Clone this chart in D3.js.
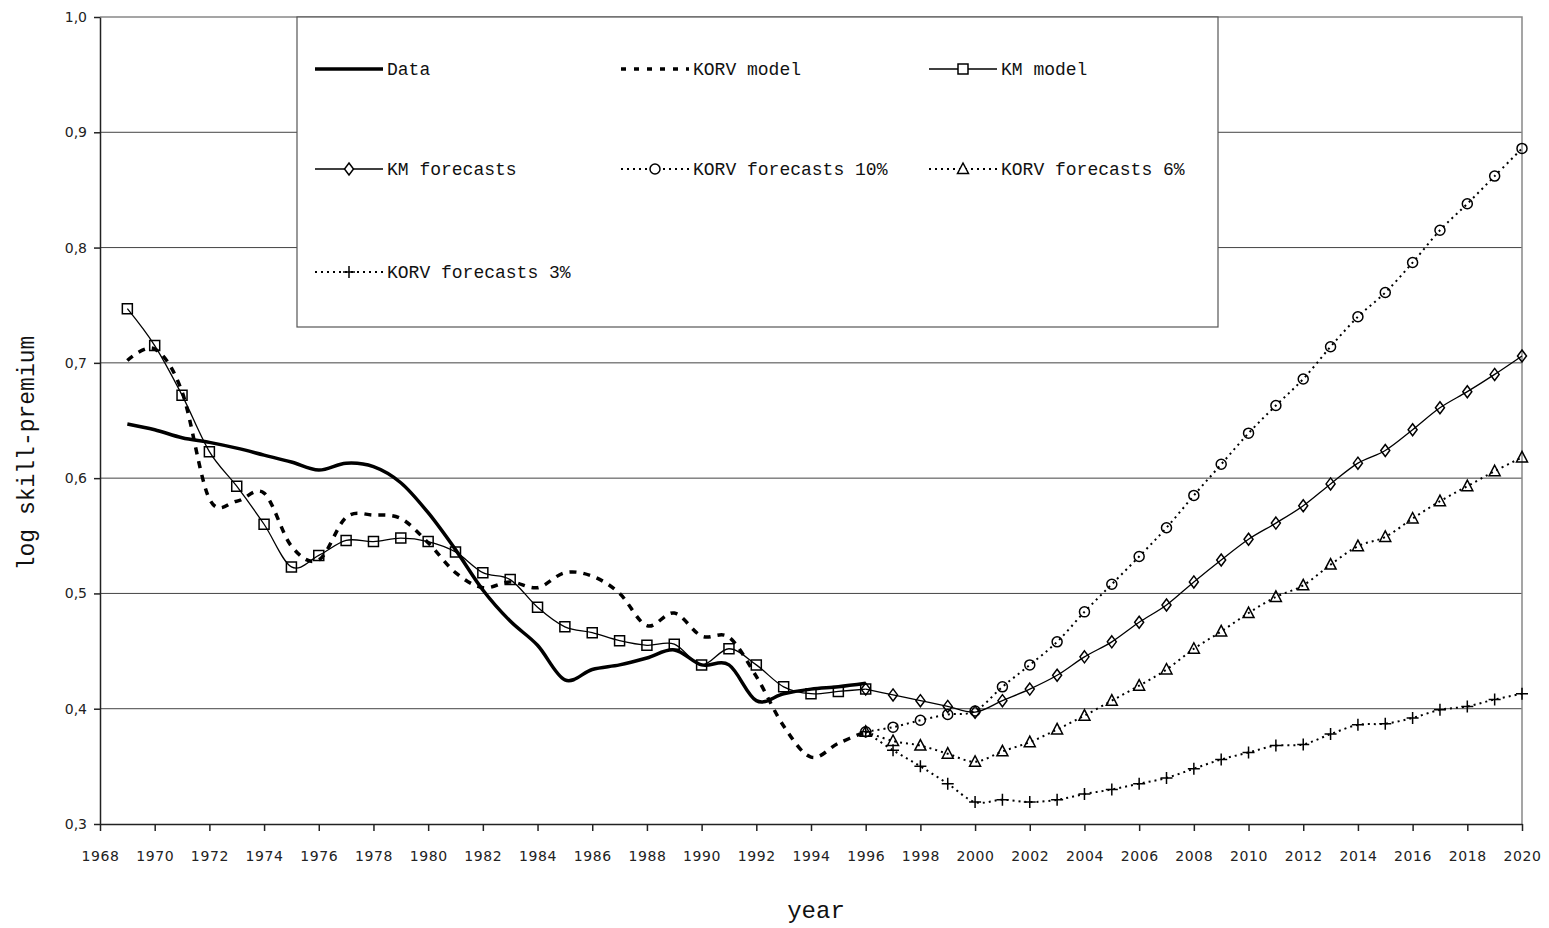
<!DOCTYPE html>
<html>
<head>
<meta charset="utf-8">
<script src="https://cdn.jsdelivr.net/npm/d3@7"></script>
<style>
  body { margin: 0; background: #fff; }
  .tick text { font-family: "DejaVu Sans", sans-serif; fill: #222; }
  .axisTitle { font-family: "Liberation Mono", monospace; fill: #111; }
  .legendText { font-family: "Liberation Mono", monospace; font-size: 18px; fill: #111; }
</style>
</head>
<body>
<div id="chart"></div>
<script>
// data
var modelYears = d3.range(1969, 1997);
var forecastYears = d3.range(1996, 2021);

var dataSeries = [0.647, 0.642, 0.635, 0.631, 0.626, 0.620, 0.614, 0.607, 0.613, 0.610,
  0.596, 0.570, 0.538, 0.503, 0.476, 0.455, 0.425, 0.434, 0.438, 0.444,
  0.451, 0.438, 0.438, 0.407, 0.413, 0.417, 0.419, 0.422];

var korvModel = [0.702, 0.712, 0.675, 0.582, 0.580, 0.587, 0.541, 0.529, 0.566, 0.568,
  0.565, 0.544, 0.518, 0.505, 0.510, 0.505, 0.518, 0.515, 0.500, 0.472,
  0.483, 0.463, 0.462, 0.428, 0.385, 0.358, 0.370, 0.380];

var kmModel = [0.747, 0.715, 0.672, 0.623, 0.593, 0.560, 0.523, 0.533, 0.546, 0.545,
  0.548, 0.545, 0.536, 0.518, 0.512, 0.488, 0.471, 0.466, 0.459, 0.455,
  0.456, 0.438, 0.452, 0.438, 0.419, 0.413, 0.415, 0.417];

var kmForecasts = [0.417, 0.412, 0.407, 0.402, 0.397, 0.407, 0.417, 0.429, 0.445, 0.458,
  0.475, 0.490, 0.510, 0.529, 0.547, 0.561, 0.576, 0.595, 0.613, 0.624,
  0.642, 0.661, 0.675, 0.690, 0.706];

var korv10 = [0.380, 0.384, 0.390, 0.395, 0.398, 0.419, 0.438, 0.458, 0.484, 0.508,
  0.532, 0.557, 0.585, 0.612, 0.639, 0.663, 0.686, 0.714, 0.740, 0.761,
  0.787, 0.815, 0.838, 0.862, 0.886];

var korv6 = [0.380, 0.372, 0.368, 0.361, 0.354, 0.363, 0.371, 0.382, 0.394, 0.407,
  0.420, 0.434, 0.452, 0.467, 0.483, 0.497, 0.507, 0.525, 0.541, 0.549,
  0.565, 0.580, 0.593, 0.606, 0.618];

var korv3 = [0.380, 0.364, 0.350, 0.335, 0.319, 0.321, 0.319, 0.321, 0.326, 0.330,
  0.335, 0.340, 0.348, 0.356, 0.362, 0.368, 0.369, 0.378, 0.386, 0.387,
  0.392, 0.399, 0.402, 0.408, 0.413];

var xTicks = d3.range(1968, 2021, 2);
var yTicks = [0.3, 0.4, 0.5, 0.6, 0.7, 0.8, 0.9, 1.0];
var gridValues = [0.4, 0.5, 0.6, 0.7, 0.8, 0.9];

var svgWidth = 1549;
var svgHeight = 928;

var margin = {
  top: 17,
  right: 27,
  bottom: 104,
  left: 100
};

var width = svgWidth - margin.left - margin.right;
var height = svgHeight - margin.top - margin.bottom;

var svg = d3.select("#chart")
  .append("svg")
  .attr("width", svgWidth)
  .attr("height", svgHeight);

var chartGroup = svg.append("g")
  .attr("transform", `translate(${margin.left}, ${margin.top})`);

var xLinearScale = d3.scaleLinear()
  .domain([1968, 2020])
  .range([0, width]);

var yLinearScale = d3.scaleLinear()
  .domain([0.3, 1.0])
  .range([height, 0]);

// marker shapes
var markerPaths = {
  square: "M-5,-5H5V5H-5Z",
  diamond: "M0,-6L4.5,0L0,6L-4.5,0Z",
  circle: "M5,0A5,5 0 1,1 -5,0A5,5 0 1,1 5,0Z",
  triangle: "M0,-6L5.5,4.5L-5.5,4.5Z",
  plus: "M-6,0H6M0,-6V6"
};

var series = [
  { name: "Data", years: modelYears, values: dataSeries, width: 3.5, dash: null, marker: null },
  { name: "KORV model", years: modelYears, values: korvModel, width: 3.5, dash: "7,7", marker: null },
  { name: "KM model", years: modelYears, values: kmModel, width: 1.3, dash: null, marker: "square" },
  { name: "KM forecasts", years: forecastYears, values: kmForecasts, width: 1.3, dash: null, marker: "diamond" },
  { name: "KORV forecasts 10%", years: forecastYears, values: korv10, width: 2, dash: "2,4", marker: "circle" },
  { name: "KORV forecasts 6%", years: forecastYears, values: korv6, width: 2, dash: "2,4", marker: "triangle" },
  { name: "KORV forecasts 3%", years: forecastYears, values: korv3, width: 2, dash: "2,4", marker: "plus" }
];

// gridlines
chartGroup.selectAll(".grid")
  .data(gridValues)
  .enter()
  .append("line")
  .attr("class", "grid")
  .attr("x1", 0)
  .attr("x2", width)
  .attr("y1", d => yLinearScale(d))
  .attr("y2", d => yLinearScale(d))
  .attr("stroke", "#444")
  .attr("stroke-width", 1);

// plot frame top and right
chartGroup.append("path")
  .attr("d", `M0,0H${width}V${height}`)
  .attr("fill", "none")
  .attr("stroke", "#888")
  .attr("stroke-width", 1.5);

// axes
var bottomAxis = d3.axisBottom(xLinearScale)
  .tickValues(xTicks)
  .tickFormat(d3.format("d"))
  .tickSize(7)
  .tickSizeOuter(0)
  .tickPadding(20);

var leftAxis = d3.axisLeft(yLinearScale)
  .tickValues(yTicks)
  .tickFormat(d => d.toFixed(1).replace(".", ","))
  .tickSize(6)
  .tickSizeOuter(0)
  .tickPadding(7);

var xAxisG = chartGroup.append("g")
  .attr("transform", `translate(0, ${height})`)
  .call(bottomAxis);
xAxisG.selectAll("text").style("font-size", "14px").style("letter-spacing", "0.6px");

var yAxisG = chartGroup.append("g")
  .call(leftAxis);
yAxisG.selectAll("text").style("font-size", "14px");

chartGroup.selectAll(".domain, .tick line")
  .attr("stroke", "#222")
  .attr("stroke-width", 1.5);

// lines
var lineGen = d3.line()
  .x(d => xLinearScale(d[0]))
  .y(d => yLinearScale(d[1]))
  .curve(d3.curveCardinal.tension(0));

series.forEach(function(s) {
  var pts = s.years.map((yr, i) => [yr, s.values[i]]);
  chartGroup.append("path")
    .datum(pts)
    .attr("d", lineGen)
    .attr("fill", "none")
    .attr("stroke", "#000")
    .attr("stroke-width", s.width)
    .attr("stroke-dasharray", s.dash)
    .attr("stroke-linejoin", "round");

  if (s.marker) {
    chartGroup.selectAll(null)
      .data(pts)
      .enter()
      .append("path")
      .attr("d", markerPaths[s.marker])
      .attr("transform", d => `translate(${xLinearScale(d[0])}, ${yLinearScale(d[1])})`)
      .attr("fill", "none")
      .attr("stroke", "#000")
      .attr("stroke-width", 1.5);
  }
});

// legend
var legend = svg.append("g")
  .attr("transform", "translate(297, 17)");

legend.append("rect")
  .attr("width", 921)
  .attr("height", 310)
  .attr("fill", "#fff")
  .attr("stroke", "#555")
  .attr("stroke-width", 1.2);

var legendCols = [18, 324, 632];
var legendRows = [52, 152, 255];

series.forEach(function(s, i) {
  var lx = legendCols[i % 3];
  var ly = legendRows[Math.floor(i / 3)];
  var item = legend.append("g").attr("transform", `translate(${lx}, ${ly})`);
  item.append("line")
    .attr("x1", 0)
    .attr("x2", 68)
    .attr("stroke", "#000")
    .attr("stroke-width", s.width)
    .attr("stroke-dasharray", s.dash ? (s.width > 3 ? "5,8" : "2,4") : null);
  if (s.marker) {
    item.append("path")
      .attr("d", markerPaths[s.marker])
      .attr("transform", "translate(34, 0)")
      .attr("fill", "#fff")
      .attr("stroke", "#000")
      .attr("stroke-width", 1.5);
  }
  item.append("text")
    .attr("class", "legendText")
    .attr("x", 72)
    .attr("y", 6)
    .text(s.name);
});

// axis titles
svg.append("text")
  .attr("class", "axisTitle")
  .attr("transform", "translate(34, 453) rotate(-90)")
  .attr("text-anchor", "middle")
  .style("font-size", "23px")
  .text("log skill-premium");

svg.append("text")
  .attr("class", "axisTitle")
  .attr("x", 816)
  .attr("y", 918)
  .attr("text-anchor", "middle")
  .style("font-size", "24px")
  .text("year");
</script>
</body>
</html>
